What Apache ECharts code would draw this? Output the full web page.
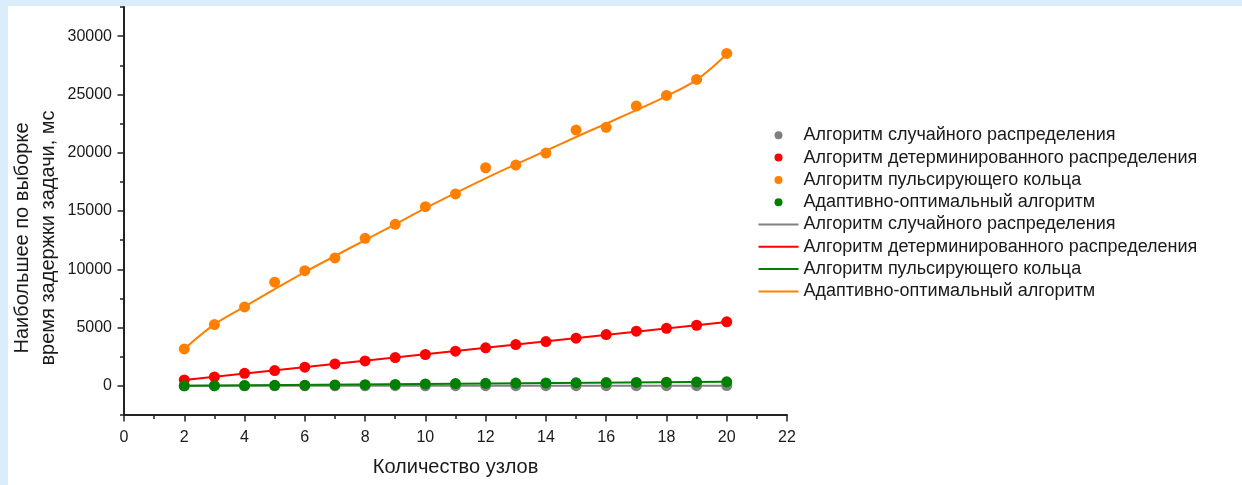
<!DOCTYPE html>
<html><head><meta charset="utf-8">
<script src="https://cdn.jsdelivr.net/npm/echarts@6/dist/echarts.min.js"></script>
<style>
html,body{margin:0;padding:0;background:#fff;}
#wrap{position:relative;width:1242px;height:485px;background:#fff;overflow:hidden;}
#bt{position:absolute;left:0;top:0;width:1242px;height:6px;background:#dbedfb;}
#bl{position:absolute;left:0;top:0;width:8px;height:485px;background:#dbedfb;}
#chart{position:absolute;left:0;top:0;width:1242px;height:485px;}
</style></head>
<body><div id="wrap"><div id="bt"></div><div id="bl"></div><div id="chart"></div></div>
<script>
// ---- data ----
const nodes = [2,3,4,5,6,7,8,9,10,11,12,13,14,15,16,17,18,19,20];
const randomPts = [0,5,3,8,6,10,8,12,10,14,12,15,13,16,15,18,16,19,20];
const determPts = [510,770,1080,1310,1600,1880,2140,2430,2690,2970,3260,3540,3800,4090,4400,4690,4940,5200,5490];
const pulsePts = [3170,5260,6770,8890,9880,10970,12660,13860,15370,16460,18710,18940,19970,21940,22180,24000,24910,26290,28520];
const adaptPts = [0,15,30,45,60,80,100,125,170,195,215,235,255,265,285,295,315,325,345];
// fitted curves
const randomFitX = [2,20];   const randomFit = [5,15];
const determFitX = [2,20];   const determFit = [500,5480];
const pulseFitX = [2,20];    const pulseFit = [0,345];
const adaptFitX = nodes;
const adaptFit = [3170,5280,6800,8300,9760,11140,12510,13860,15240,16540,17800,19000,20170,21350,22500,23650,24860,26250,28450];
const names = ['Алгоритм случайного распределения','Алгоритм детерминированного распределения','Алгоритм пульсирующего кольца','Адаптивно-оптимальный алгоритм'];
const yMajorTicks = [0,5000,10000,15000,20000,25000,30000];
const yMinorTicks = [-2500,2500,7500,12500,17500,22500,27500,32500];
const xLabel = 'Количество узлов';
const yLabel = 'Наибольшее по выборке\nвремя задержки задачи, мс';

const zip = (xs, ys) => xs.map((x,i)=>[x, ys[i]]);
const FONT = 'Liberation Sans, Arial, sans-serif';
const C = {gray:'#808080', red:'#ff0000', orange:'#ff8000', green:'#008000'};
const lineName = n => n + '\u00a0';

const scatter = (name, data, color) => ({type:'scatter', name, data, symbolSize:11, itemStyle:{color, opacity:1}, z:3});
const fit = (name, data, color, smooth) => ({type:'line', name, data, symbol:'none', smooth: smooth ? 0.35 : false,
  lineStyle:{color, width:2}, itemStyle:{color}, z:2});

const chart = echarts.init(document.getElementById('chart'), null, {renderer:'canvas'});
chart.setOption({
  animation:false,
  textStyle:{fontFamily:FONT},
  grid:{left:124, right:455, top:7, bottom:70, containLabel:false, outerBoundsMode:'none'},
  legend:{
    orient:'vertical', left:752.5, top:121.3, itemWidth:40, itemHeight:8, itemGap:4.3,
    textStyle:{fontSize:18, color:'#1a1a1a', fontFamily:FONT},
    selectedMode:false,
    data:[
      {name:names[0], icon:'circle'},
      {name:names[1], icon:'circle'},
      {name:names[2], icon:'circle'},
      {name:names[3], icon:'circle'},
      {name:lineName(names[0]), itemStyle:{opacity:0}},
      {name:lineName(names[1]), itemStyle:{opacity:0}},
      {name:lineName(names[2]), itemStyle:{opacity:0}},
      {name:lineName(names[3]), itemStyle:{opacity:0}}
    ]
  },
  xAxis:{
    type:'value', min:0, max:22, interval:2,
    name:xLabel, nameLocation:'middle', nameGap:42, nameMoveOverlap:false,
    nameTextStyle:{fontSize:20, color:'#1a1a1a', fontFamily:FONT},
    axisLine:{show:true, onZero:false, lineStyle:{color:'#222', width:2}},
    axisTick:{show:true, length:6.5, lineStyle:{color:'#222', width:1.5}},
    minorTick:{show:true, splitNumber:2, length:4, lineStyle:{color:'#222', width:1.5}},
    axisLabel:{fontSize:16, color:'#1a1a1a', margin:14.5, fontFamily:FONT, formatter: v => String(v)},
    splitLine:{show:false}
  },
  yAxis:[{
    type:'value', min:-2500, max:32500,
    name:yLabel, nameLocation:'middle', nameGap:63, nameMoveOverlap:false,
    nameTextStyle:{fontSize:20, color:'#1a1a1a', lineHeight:26, fontFamily:FONT, padding:[0,54,0,0]},
    axisLine:{show:true, onZero:false, lineStyle:{color:'#222', width:2}},
    axisTick:{show:true, length:6.5, customValues:yMajorTicks, lineStyle:{color:'#222', width:1.5}},
    axisLabel:{fontSize:16, color:'#1a1a1a', margin:12, customValues:yMajorTicks, fontFamily:FONT, formatter: v => String(v)},
    splitLine:{show:false}
  },{
    type:'value', min:-2500, max:32500, position:'left', offset:0,
    axisLine:{show:false},
    axisTick:{show:true, length:4, customValues:yMinorTicks, lineStyle:{color:'#222', width:1.5}},
    axisLabel:{show:false},
    splitLine:{show:false}
  }],
  series:[
    fit(lineName(names[0]), zip(randomFitX, randomFit), C.gray, false),
    fit(lineName(names[1]), zip(determFitX, determFit), C.red, false),
    fit(lineName(names[2]), zip(pulseFitX, pulseFit), C.green, false),
    fit(lineName(names[3]), zip(adaptFitX, adaptFit), C.orange, true),
    scatter(names[0], zip(nodes, randomPts), C.gray),
    scatter(names[1], zip(nodes, determPts), C.red),
    scatter(names[2], zip(nodes, pulsePts), C.orange),
    scatter(names[3], zip(nodes, adaptPts), C.green)
  ]
});
</script></body></html>
